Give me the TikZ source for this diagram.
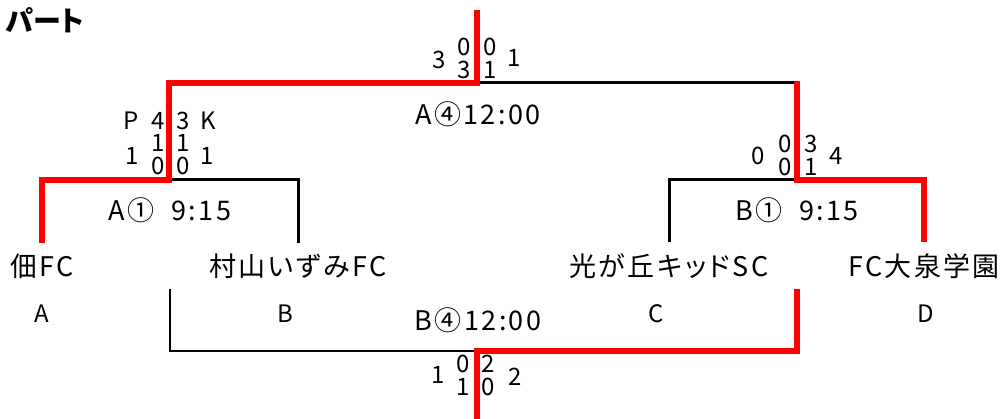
\documentclass[tikz,border=0pt]{standalone}
\usepackage{fontspec}
\setmainfont{Noto Sans CJK JP}[RawFeature=+palt]
\newfontfamily\widefont{Noto Sans CJK JP}[RawFeature=+palt, LetterSpace=9]
\usetikzlibrary{positioning}

\begin{document}
\begin{tikzpicture}[
    x=1pt, y=-1pt,
    team/.style={inner sep=0pt, outer ysep=11pt, font=\widefont\fontsize{27}{27}\selectfont},
    letter/.style={inner sep=0pt, font=\fontsize{24}{24}\selectfont},
    score/.style={inner sep=0pt, align=center, font=\fontsize{24}{23}\selectfont},
    time/.style={inner sep=0pt, font=\widefont\fontsize{27}{27}\selectfont},
    title/.style={inner sep=0pt, font=\fontsize{28}{28}\selectfont\bfseries},
    win/.style={draw=red, line width=6.5pt},
    lose/.style={draw=black, line width=3pt},
    thinlose/.style={draw=black, line width=1.3pt},
]
    \useasboundingbox (0,0) rectangle (1005,419);

    \node[title, anchor=west] (ttl) at (6,20) {パート};

    % teams
    \node[team] (tA) at (42,266) {佃FC};
    \node[team] (tB) at (298,266) {村山いずみFC};
    \node[team] (tC) at (669,266) {光が丘キッドSC};
    \node[team] (tD) at (924,266) {FC大泉学園};
    \node[letter] (lA) at (42,314) {A};
    \node[letter] (lB) at (285,314) {B};
    \node[letter] (lC) at (656,314) {C};
    \node[letter] (lD) at (926,314) {D};

    % junctions
    \coordinate (a1) at (169,180);
    \coordinate (b1) at (797,180);
    \coordinate (fin) at (477,83);
    \coordinate (b1top) at (797,81);
    \coordinate (champ) at (477,10);
    \coordinate (a1low) at (170,289);
    \coordinate (b1low) at (797,289);
    \coordinate (third) at (477,351);
    \coordinate (thirdend) at (477,419);

    \draw[lose] (tB.north) |- (a1);
    \draw[lose] (tC.north) |- (b1);
    \draw[lose] (fin) -- (fin -| b1);
    \draw[thinlose] (a1low) |- (third);
    \draw[win] (tA.north) |- (a1) |- (fin) -- (champ);
    \draw[win] (tD.north) |- (b1) -- (b1top);
    \draw[win] (b1low) |- (third) -- (thirdend);

    % match times
    \node[time] (mA1) at (170,210) {A①\ \ 9:15};
    \node[time] (mB1) at (797,210) {B①\ \ 9:15};
    \node[time] (mA4) at (478,114) {A④12:00};
    \node[time] (mB4) at (478,320) {B④12:00};

    % A1 scores
    \node[score] (sA1p) at (131,121) {P};
    \node[score] (sA1l) at (158,121) {4};
    \node[score] (sA1r) at (183,121) {3};
    \node[score] (sA1k) at (208,121) {K};
    \node[score] (sA1a) at (132,156) {1};
    \node[score] (sA1b) at (158,155) {1\\0};
    \node[score] (sA1c) at (183,155) {1\\0};
    \node[score] (sA1d) at (207,156) {1};

    % B1 scores
    \node[score] (sB1a) at (758,156) {0};
    \node[score] (sB1b) at (785,155) {0\\0};
    \node[score] (sB1c) at (811,155) {3\\1};
    \node[score] (sB1d) at (836,156) {4};

    % A4 scores
    \node[score] (sA4a) at (439,60) {3};
    \node[score] (sA4b) at (464,58) {0\\3};
    \node[score] (sA4c) at (490,58) {0\\1};
    \node[score] (sA4d) at (514,58) {1};

    % B4 scores
    \node[score] (sB4a) at (438,375) {1};
    \node[score] (sB4b) at (463,375) {0\\1};
    \node[score] (sB4c) at (488,375) {2\\0};
    \node[score] (sB4d) at (515,377) {2};
\end{tikzpicture}
\end{document}
